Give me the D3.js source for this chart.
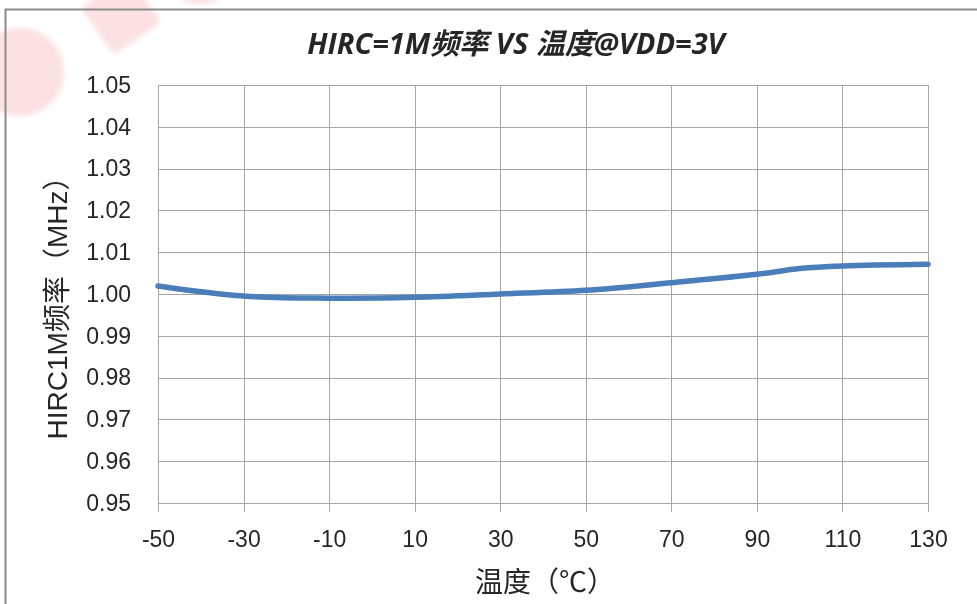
<!DOCTYPE html>
<html>
<head>
<meta charset="utf-8">
<script src="https://cdn.jsdelivr.net/npm/d3@7"></script>
<style>
  html, body { margin: 0; padding: 0; background: #fff; }
  svg { display: block; }
  text { font-family: "Liberation Sans", "Noto Sans CJK SC", sans-serif; fill: #262626; }
</style>
</head>
<body>
<svg id="chart" width="977" height="604"></svg>
<script>
// Measured HIRC 1 MHz oscillator frequency against temperature, VDD = 3 V
const temperatures = [-50, -30, -10, 10, 30, 50, 70, 90, 100, 110, 130];
const frequencies  = [1.0019, 0.9995, 0.9990, 0.9992, 1.0000, 1.0009, 1.0027, 1.0047, 1.0061, 1.0067, 1.0071];
const xTickValues  = [-50, -30, -10, 10, 30, 50, 70, 90, 110, 130];
const yTickValues  = [0.95, 0.96, 0.97, 0.98, 0.99, 1.00, 1.01, 1.02, 1.03, 1.04, 1.05];
const titleText  = "HIRC=1M频率 VS 温度@VDD=3V";
const xTitleText = "温度（℃）";
const yTitleText = "HIRC1M频率（MHz）";

const svg = d3.select("#chart");
const W = 977, H = 604;
const plot = { left: 158, right: 928, top: 85, bottom: 503 };

svg.append("rect").attr("width", W).attr("height", H).attr("fill", "#fff");

// soft red logo mark in the upper-left corner
const defs = svg.append("defs");
defs.append("filter").attr("id", "soft").append("feGaussianBlur").attr("stdDeviation", 2.5);
const mark = svg.append("g").attr("fill", "#f59aa0").attr("opacity", 0.3).attr("filter", "url(#soft)");
mark.append("ellipse").attr("cx", 20).attr("cy", 72).attr("rx", 44).attr("ry", 44);
mark.append("rect").attr("x", 92).attr("y", -14).attr("width", 58).attr("height", 58)
  .attr("rx", 6).attr("transform", "rotate(-35 121 15)");
mark.append("ellipse").attr("cx", 200).attr("cy", -2).attr("rx", 20).attr("ry", 6);

// chart frame
svg.append("path")
  .attr("d", `M5.5,${H} L5.5,9.5 L${W},9.5`)
  .attr("fill", "none").attr("stroke", "#8c8c8c").attr("stroke-width", 2);

const x = d3.scaleLinear().domain([-50, 130]).range([plot.left, plot.right]);
const y = d3.scaleLinear().domain([0.95, 1.05]).range([plot.bottom, plot.top]);

// gridlines
const grid = svg.append("g").attr("stroke", "#a6a6a6").attr("stroke-width", 1).attr("shape-rendering", "crispEdges");
grid.selectAll("line.h").data(yTickValues).join("line").attr("class", "h")
  .attr("x1", plot.left).attr("x2", plot.right)
  .attr("y1", d => Math.round(y(d)) + 0.5).attr("y2", d => Math.round(y(d)) + 0.5);
grid.selectAll("line.v").data(xTickValues).join("line").attr("class", "v")
  .attr("x1", d => Math.round(x(d)) + 0.5).attr("x2", d => Math.round(x(d)) + 0.5)
  .attr("y1", plot.top).attr("y2", plot.bottom + 9);

// x axis labels (plain hyphen for negatives)
const xAxis = d3.axisBottom(x).tickValues(xTickValues).tickSize(0).tickPadding(28)
  .tickFormat(d => String(d));
const gx = svg.append("g").attr("transform", `translate(0,${plot.bottom})`).call(xAxis);
gx.select(".domain").remove();
gx.selectAll("text").attr("font-size", 23).attr("fill", "#262626")
  .style("font-family", "'Liberation Sans', sans-serif");

// y axis labels
const yAxis = d3.axisLeft(y).tickValues(yTickValues).tickSize(0).tickPadding(27)
  .tickFormat(d3.format(".2f"));
const gy = svg.append("g").attr("transform", `translate(${plot.left},0)`).call(yAxis);
gy.select(".domain").remove();
gy.selectAll("text").attr("font-size", 23).attr("fill", "#262626")
  .style("font-family", "'Liberation Sans', sans-serif");

// data line
const line = d3.line()
  .x((d, i) => x(temperatures[i]))
  .y(d => y(d))
  .curve(d3.curveCatmullRom.alpha(0.5));
svg.append("path").datum(frequencies)
  .attr("d", line)
  .attr("fill", "none").attr("stroke", "#4a7ebb").attr("stroke-width", 5.5)
  .attr("stroke-linecap", "round").attr("stroke-linejoin", "round");

// titles
svg.append("text").attr("x", 516).attr("y", 54).attr("text-anchor", "middle")
  .attr("font-size", 29).attr("font-weight", "bold").attr("font-style", "italic")
  .style("font-family", "'Open Sans', 'Noto Sans CJK SC', sans-serif")
  .text(titleText);

svg.append("text").attr("x", 545).attr("y", 592).attr("text-anchor", "middle")
  .attr("font-size", 28)
  .style("font-family", "'Liberation Sans', 'Noto Sans CJK SC', sans-serif")
  .text(xTitleText);

svg.append("text").attr("transform", "translate(67,301) rotate(-90)").attr("text-anchor", "middle")
  .attr("font-size", 28)
  .style("font-family", "'Liberation Sans', 'Noto Sans CJK SC', sans-serif")
  .text(yTitleText);
</script>
</body>
</html>
